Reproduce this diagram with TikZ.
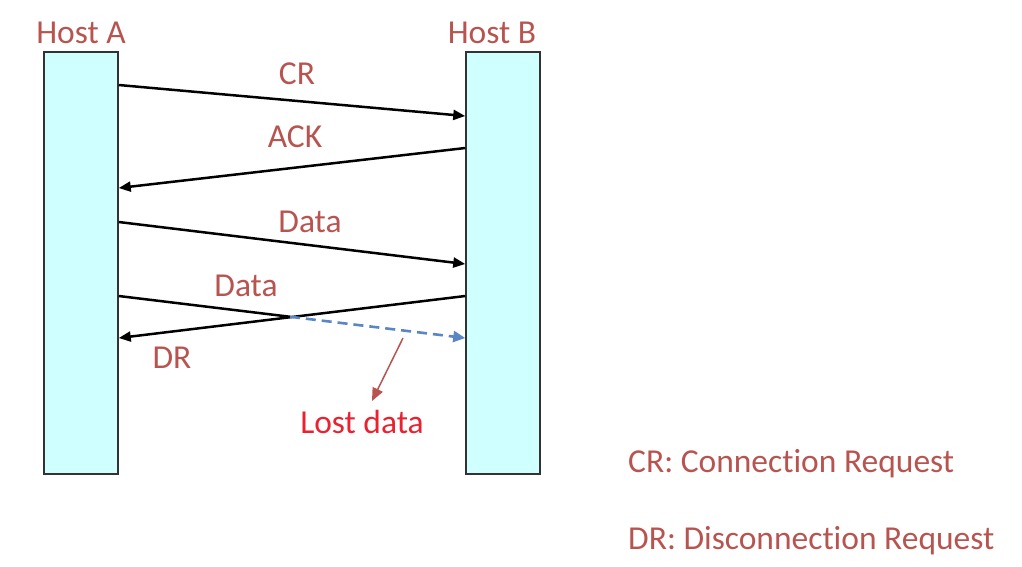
\documentclass[tikz,border=0pt]{standalone}
\usepackage{fontspec}
\setmainfont[Ligatures={NoCommon,NoContextual,NoRare}]{Carlito}
\usetikzlibrary{arrows.meta,calc,positioning}

\definecolor{labelred}{RGB}{184,84,80}
\definecolor{lostred}{RGB}{232,34,48}
\definecolor{dashblue}{RGB}{91,134,198}
\definecolor{hostcyan}{RGB}{208,255,255}

\begin{document}
\begin{tikzpicture}[x=1pt,y=-1pt,
                    host/.style={draw=black!80,line width=1.5pt,fill=hostcyan,
                                 minimum width=74pt,minimum height=422pt,inner sep=0pt},
                    txt/.style={text=labelred,font=\fontsize{33.5}{38}\selectfont,
                                inner sep=0pt,anchor=base},
                    msg/.style={draw=black,line width=2.5pt,-{Triangle[length=12pt,width=10pt]}}]
    \useasboundingbox (0,0) rectangle (1022,566);

    \node at ( 81,263) (hostA) [host] {};
    \node at (503,263) (hostB) [host] {};
    \node at ( 81, 43) (labA)  [txt]  {Host A};
    \node at (492, 43) (labB)  [txt]  {Host B};

    % messages
    \draw [msg] (hostA.east |- 0,85)  -- (hostB.west |- 0,116);
    \draw [msg] (hostB.west |- 0,148) -- (hostA.east |- 0,188);
    \draw [msg] (hostA.east |- 0,222) -- (hostB.west |- 0,264);
    \draw [msg] (hostB.west |- 0,296) -- (hostA.east |- 0,338);

    % second data packet, lost on the way
    \coordinate (d0) at (hostA.east |- 0,296);
    \coordinate (d1) at (hostB.west |- 0,338);
    \coordinate (cut) at ($(d0)!0.494!(d1)$);
    \draw [black,line width=2.5pt] (d0) -- (cut);
    \draw [dashblue,line width=2.6pt,dash pattern=on 10pt off 6pt,
           -{Triangle[length=12pt,width=11pt]}] (cut) -- (d1);

    \node at (297, 84) (cr)    [txt] {CR};
    \node at (295,147) (ack)   [txt] {ACK};
    \node at (310,232) (data1) [txt] {Data};
    \node at (246,296) (data2) [txt] {Data};
    \node at (172,368) (dr)    [txt] {DR};
    \node at (362,433) (lost)  [txt,text=lostred] {Lost data};
    \coordinate (lostfrom) at (403,338);
    \coordinate (lostto)   at (372,401);
    \draw [labelred,line width=1.5pt,-{Triangle[length=13pt,width=11pt]}]
        (lostfrom) -- (lostto);

    % legend
    \node at (628,472) (lgcr) [txt,anchor=base west] {CR: Connection Request};
    \node at (628,549) (lgdr) [txt,anchor=base west] {DR: Disconnection Request};
\end{tikzpicture}
\end{document}
